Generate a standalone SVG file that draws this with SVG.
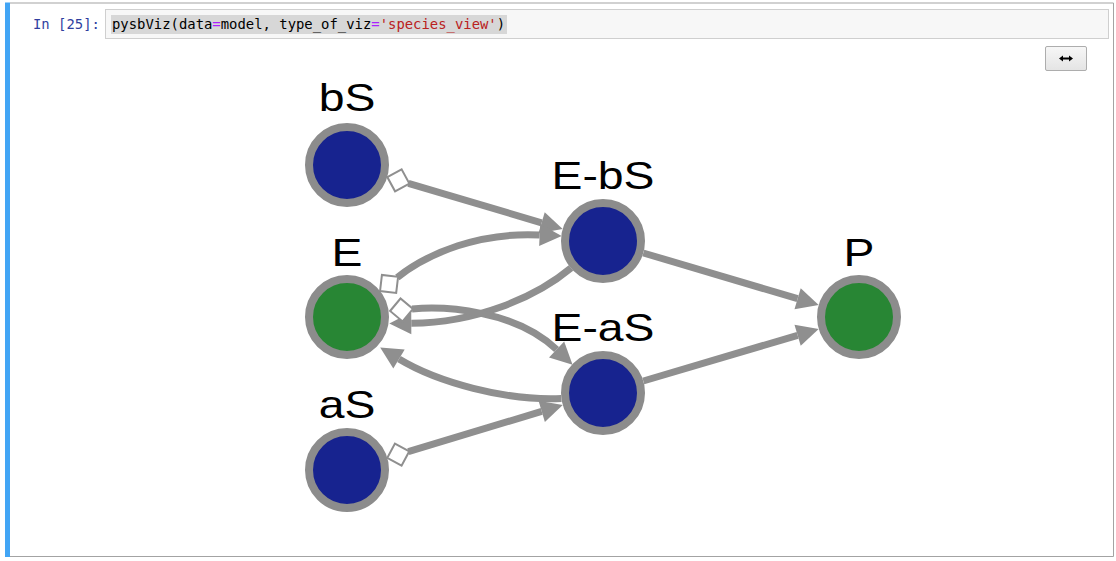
<svg xmlns="http://www.w3.org/2000/svg" width="1116" height="561" viewBox="0 0 1116 561">
<style>
.node circle{stroke:#8c8c8c;stroke-width:8}
.blue{fill:#17238f}
.green{fill:#288634}
.lbl{font-family:"Liberation Sans",Arial,sans-serif;font-size:38px;fill:#000;text-anchor:middle}
.edge{fill:none;stroke:#8f8f8f;stroke-width:7}
.arr{marker-end:url(#arrow)}
.dia{marker-start:url(#diamond)}
.code{font-family:"DejaVu Sans Mono",monospace;font-size:13.9px;white-space:pre}
</style>
<defs>
<marker id="arrow" markerUnits="userSpaceOnUse" markerWidth="24" markerHeight="22" refX="0" refY="11" orient="auto" overflow="visible">
<path d="M0,0 L22,11 L0,22 z" fill="#8f8f8f"/>
</marker>
<marker id="diamond" markerUnits="userSpaceOnUse" markerWidth="26" markerHeight="26" refX="22" refY="12" orient="auto" overflow="visible">
<path d="M0,12 L11.5,0.5 L23,12 L11.5,23.5 z" fill="#fff" stroke="#8f8f8f" stroke-width="2"/>
</marker>
<linearGradient id="btn" x1="0" y1="0" x2="0" y2="1">
<stop offset="0" stop-color="#f7f7f7"/>
<stop offset="1" stop-color="#e4e4e4"/>
</linearGradient>
</defs>
<rect width="1116" height="561" fill="#fff"/>
<g id="cell">
<path d="M10,3 H1113.5 V556.5 H10" fill="none" stroke="#a3a3a3" stroke-width="1"/>
<rect x="5" y="2.5" width="5" height="554.5" fill="#42a5f5"/>
<text x="33" y="28.5" class="code" fill="#303f9f">In [25]:</text>
<rect x="105.5" y="9.5" width="1003" height="29" fill="#f7f7f7" stroke="#cfcfcf"/>
<rect x="111" y="15" width="396" height="19" fill="#d7d7d7"/>
<text x="112" y="28.5" class="code" fill="#000">pysbViz(data<tspan fill="#aa22ff">=</tspan>model, type_of_viz<tspan fill="#aa22ff">=</tspan><tspan fill="#ba2121">'species_view'</tspan>)</text>
</g>
<g id="button">
<rect x="1045.5" y="46.5" width="41" height="24" rx="1.5" fill="url(#btn)" stroke="#adadad"/>
<path d="M1062,58.5 H1070" stroke="#000" stroke-width="2"/>
<path d="M1059,58.5 L1063,55.5 L1063,61.5 z M1073,58.5 L1069,55.5 L1069,61.5 z" fill="#000"/>
</g>
<g id="edges">
<path class="edge arr dia" d="M408.4,183.3 L541.6,222.8"/>
<path class="edge arr dia" d="M408.3,451.6 L541.7,411.4"/>
<path class="edge arr" d="M643.3,253 L797.6,298.7"/>
<path class="edge arr" d="M643.3,381 L797.6,335.3"/>
<path class="edge arr dia" d="M397.3,277.4 C428.7,252.6 480,232 539.7,235"/>
<path class="edge arr" d="M571,268 C535,298 475,323 411.3,323.3"/>
<path class="edge arr dia" d="M412,309 C445,306 515,310 556.6,349.5"/>
<path class="edge arr" d="M561.4,398.5 C505,401 437,382 399,359"/>
</g>
<g id="node-bS" class="node">
<circle class="blue" cx="347" cy="165" r="38"/>
<text class="lbl" transform="translate(347,111) scale(1.22,1)">bS</text>
</g>
<g id="node-E" class="node">
<circle class="green" cx="347" cy="317" r="38"/>
<text class="lbl" transform="translate(347,266) scale(1.22,1)">E</text>
</g>
<g id="node-aS" class="node">
<circle class="blue" cx="347" cy="470" r="38"/>
<text class="lbl" transform="translate(347,418) scale(1.22,1)">aS</text>
</g>
<g id="node-E-bS" class="node">
<circle class="blue" cx="603" cy="241" r="38"/>
<text class="lbl" transform="translate(603,189) scale(1.22,1)">E-bS</text>
</g>
<g id="node-E-aS" class="node">
<circle class="blue" cx="603" cy="393" r="38"/>
<text class="lbl" transform="translate(603,341) scale(1.22,1)">E-aS</text>
</g>
<g id="node-P" class="node">
<circle class="green" cx="859" cy="317" r="38"/>
<text class="lbl" transform="translate(859,266) scale(1.22,1)">P</text>
</g>
</svg>
